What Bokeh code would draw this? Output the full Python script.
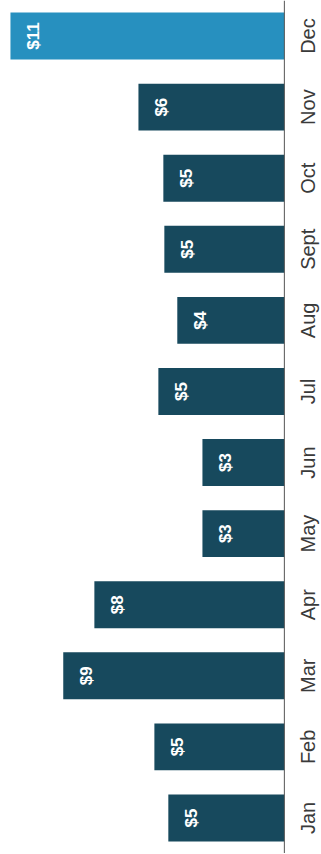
import math
from bokeh.plotting import figure
from bokeh.models import ColumnDataSource, Range1d, FactorRange, Span
from bokeh.core.properties import value
from bokeh.embed import file_html
from bokeh.resources import INLINE

months = ["Jan", "Feb", "Mar", "Apr", "May", "Jun", "Jul", "Aug", "Sept", "Oct", "Nov", "Dec"]
amounts = [4.66, 5.22, 8.88, 7.63, 3.29, 3.29, 5.06, 4.30, 4.82, 4.86, 5.86, 11.0]
labels = ["$5", "$5", "$9", "$8", "$3", "$3", "$5", "$4", "$5", "$5", "$6", "$11"]
colors = ["#17495d"] * 11 + ["#2790bf"]
zeros = [0] * len(months)

src = ColumnDataSource(dict(month=months, amount=amounts, label=labels, color=colors, zero=zeros))

# 24.9 px per dollar; frame spans 321 px with the value axis at 284 px
p = figure(
    y_range=FactorRange(*months, range_padding=0),
    x_range=Range1d(11.4, 11.4 - 321 / 24.9),
    frame_width=321, frame_height=853,
    output_backend="svg", toolbar_location=None,
    min_border_left=0, min_border_right=0, min_border_top=0, min_border_bottom=0,
)
p.outline_line_color = None
p.grid.visible = False
p.xaxis.visible = False
p.yaxis.visible = False
p.background_fill_color = "white"

p.hbar(y="month", right="amount", left=0, height=0.66, color="color", line_color=None, source=src)

p.add_layout(Span(location=0, dimension="height", line_color="#555555", line_width=1))

p.text(x="amount", y="month", text="label", source=src, angle=math.pi / 2,
       text_align="center", text_baseline="middle", x_offset=23,
       text_color="white", text_font=value("Liberation Sans"), text_font_style="bold",
       text_font_size="17px")

p.text(x="zero", y="month", text="month", source=src, angle=math.pi / 2,
       text_align="center", text_baseline="middle", x_offset=24,
       text_color="#3a3a3a", text_font=value("Liberation Sans"),
       text_font_size="20px")

open("out.html", "w").write(file_html(p, INLINE))
